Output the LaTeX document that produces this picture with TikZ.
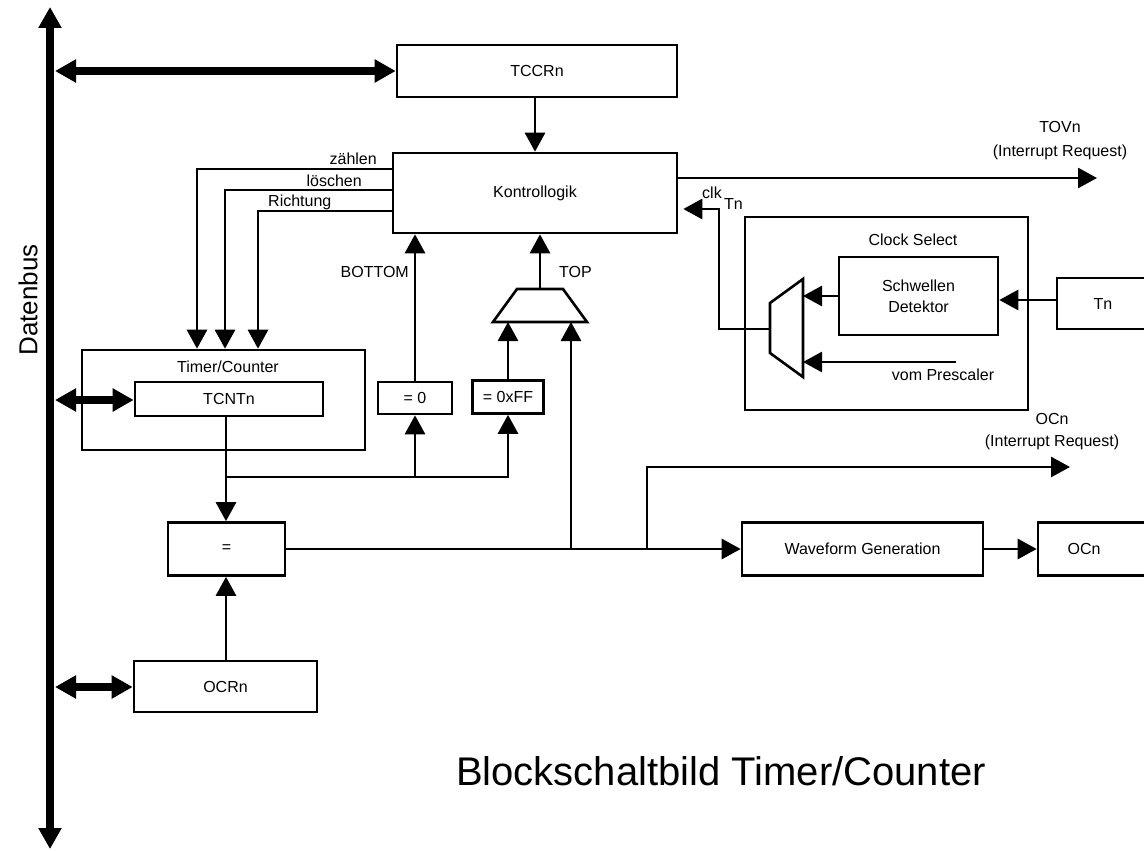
\documentclass[tikz,border=0pt]{standalone}
\usepackage{fontspec}
\setmainfont{Liberation Sans}
\usetikzlibrary{arrows.meta}
\newcommand\sz{\fontsize{16}{21}\selectfont}
\begin{document}
\begin{tikzpicture}[x=1pt,y=-1pt,
 arr/.style={-{Triangle[length=19pt,width=20pt]},line width=2.8pt},
 busarr/.style={{Triangle[length=21pt,width=22pt]}-{Triangle[length=21pt,width=22pt]},line width=7.5pt},
 box/.style={draw,line width=2.6pt,inner sep=0pt,font=\sz},
 lbl/.style={inner sep=0pt,font=\sz},
 shp/.style={line width=2.6pt,line join=miter}]
\useasboundingbox (0,0) rectangle (1144,851);
\clip (0,0) rectangle (1144,851);

% Datenbus
\coordinate (busT) at (50,7);
\coordinate (busB) at (50,849);
\draw[busarr] (busT) -- (busB);
\node[rotate=90,inner sep=0pt,font=\fontsize{26}{30}\selectfont] (db) at (28,300) {Datenbus};

% boxes
\node[box,minimum width=280pt,minimum height=52pt] (TCCR) at (537,71) {TCCRn};
\node[box,minimum width=284pt,minimum height=80pt] (KL) at (535,193) {Kontrollogik};
\node[box,minimum width=283pt,minimum height=100pt] (TC) at (223.5,400) {};
\node[lbl] (TCl) at (228,367) {Timer/Counter};
\node[box,minimum width=188pt,minimum height=34pt] (TCNT) at (229,399) {TCNTn};
\node[box,minimum width=74pt,minimum height=32pt] (EQ0) at (415,398) {= 0};
\node[box,minimum width=71pt,minimum height=33pt] (EQFF) at (508,397) {= 0xFF};
\node[box,minimum width=117pt,minimum height=53pt] (EQ) at (226.5,549) {=};
\node[box,minimum width=183pt,minimum height=51pt] (OCR) at (225.5,686.5) {OCRn};
\node[box,minimum width=241pt,minimum height=53pt] (WG) at (862.5,549) {Waveform Generation};
\node[box,minimum width=130pt,minimum height=53pt] (OCN) at (1103,549) {};
\node[lbl] (OCNt) at (1084,549) {OCn};
\node[box,minimum width=283pt,minimum height=193pt] (CS) at (886.5,313.5) {};
\node[lbl,anchor=base] (CSl) at (913,245) {Clock Select};
\node[box,minimum width=159pt,minimum height=78pt,align=center] (SD) at (918.5,296) {Schwellen\\Detektor};
\node[box,minimum width=120pt,minimum height=51pt] (TN) at (1117,303.5) {};
\node[lbl] (TNt) at (1103,303.5) {Tn};

% labels
\node[lbl,anchor=base east] (lz) at (377,164) {zählen};
\node[lbl,anchor=base east] (ll) at (362,186) {löschen};
\node[lbl,anchor=base west] (lr) at (268,206) {Richtung};
\node[lbl,anchor=base east] (lb) at (409,277) {BOTTOM};
\node[lbl,anchor=base west] (lt) at (559,277) {TOP};
\node[lbl,anchor=base] (tov1) at (1060,132) {TOVn};
\node[lbl,anchor=base] (tov2) at (1060,156) {(Interrupt Request)};
\node[lbl,anchor=base] (oc1) at (1052,424) {OCn};
\node[lbl,anchor=base] (oc2) at (1052,446) {(Interrupt Request)};
\node[lbl,anchor=base west] (clk) at (702,198) {clk};
\node[lbl,anchor=base west] (clkTn) at (724,209) {Tn};
\node[lbl,anchor=base] (vp) at (943,380) {vom Prescaler};
\node[anchor=base,inner sep=0pt,font=\fontsize{40}{44}\selectfont] (title) at (721,785) {Blockschaltbild Timer/Counter};

% bus connections
\coordinate (b1) at (55,71);
\draw[busarr] (b1) -- (TCCR.west);
\coordinate (b2) at (55,400);
\draw[busarr] (b2) -- (TCNT.west |- b2);
\coordinate (b3) at (55,687);
\draw[busarr] (b3) -- (OCR.west |- b3);

% control
\draw[arr] (TCCR.south -| KL.north) -- (KL.north);
\draw[arr] (KL.west |- 0,169) -| (197,0 |- TC.north);
\draw[arr] (KL.west |- 0,190) -| (225,0 |- TC.north);
\draw[arr] (KL.west |- 0,211) -| (258,0 |- TC.north);

% counter branch
\coordinate (br) at (226,477);
\draw[arr] (TCNT.south -| br) -- (br |- EQ.north);
\draw[arr] (br) -| (EQ0.south);
\draw[arr] (br) -| (EQFF.south);
\draw[arr] (EQ0.north) -- (EQ0.north |- KL.south);

% TOP mux
\coordinate (mTL) at (517,289);
\coordinate (mTR) at (563,289);
\coordinate (mBR) at (587,322);
\coordinate (mBL) at (493,322);
\draw[shp] (mTL) -- (mTR) -- (mBR) -- (mBL) -- cycle;
\coordinate (mOut) at (540,289);
\coordinate (mIn1) at (508,322);
\coordinate (mIn2) at (571,322);
\draw[arr] (mOut) -- (mOut |- KL.south);
\draw[arr] (EQFF.north) -- (EQFF.north |- mIn1);

% compare
\draw[arr] (OCR.north -| br) -- (br |- EQ.south);
\draw[arr] (EQ.east) -- (WG.west);
\coordinate (j1) at (571,549);
\coordinate (j2) at (647,549);
\draw[arr] (j1) -- (mIn2);
\coordinate (ocirq) at (1070,467);
\draw[arr] (j2) |- (ocirq);
\draw[arr] (WG.east) -- (OCN.west);

% TOVn
\coordinate (tov) at (1097,178);
\draw[arr] (KL.east |- tov) -- (tov);

% clock select mux
\coordinate (cL1) at (770,303);
\coordinate (cL2) at (770,353);
\coordinate (cR1) at (803,279);
\coordinate (cR2) at (803,377);
\draw[shp] (cL1) -- (cR1) -- (cR2) -- (cL2) -- cycle;
\coordinate (cOut) at (770,329);
\draw[arr,shorten >=5pt] (cOut) -| (719,209) -- (KL.east |- 0,209);
\draw[arr] (SD.west) -- (SD.west -| cR1);
\coordinate (pre) at (956,362);
\draw[arr] (pre) -- (pre -| cR1);
\draw[arr] (TN.west |- 0,300) -- (SD.east |- 0,300);
\end{tikzpicture}
\end{document}
